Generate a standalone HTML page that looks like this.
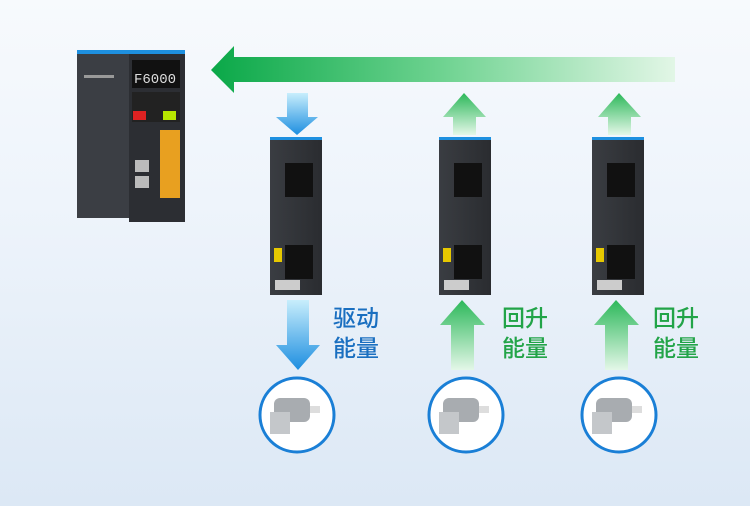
<!DOCTYPE html>
<html><head><meta charset="utf-8"><style>
body{margin:0;width:750px;height:506px;overflow:hidden;background:linear-gradient(#f7fafd 0%,#eef4fb 40%,#dce8f5 100%);font-family:"Liberation Sans","Noto Sans CJK SC",sans-serif}
.t{position:absolute;font-size:23px;line-height:30px;font-weight:500}
</style></head><body>
<svg width="750" height="506" style="position:absolute;left:0;top:0">
<defs>
<linearGradient id="gt" x1="0" x2="1"><stop offset="0" stop-color="#0aa848"/><stop offset="0.5" stop-color="#6fd391"/><stop offset="1" stop-color="#e2f6e6"/></linearGradient>
<linearGradient id="bd" x1="0" y1="0" x2="0" y2="1"><stop offset="0" stop-color="#c8eefc"/><stop offset="1" stop-color="#1d8ee0"/></linearGradient>
<linearGradient id="gu" x1="0" y1="0" x2="0" y2="1"><stop offset="0" stop-color="#2cb85a"/><stop offset="1" stop-color="#e4f7e8"/></linearGradient>
<linearGradient id="dev" x1="0" x2="1"><stop offset="0" stop-color="#3a3d42"/><stop offset="1" stop-color="#2a2c30"/></linearGradient>
</defs>
<polygon points="211,70 234,46 234,57 675,57 675,82 234,82 234,93" fill="url(#gt)"/>
<rect x="77" y="50" width="52" height="168" fill="#3b3e44"/>
<rect x="129" y="50" width="56" height="172" fill="#2c2e33"/>
<rect x="77" y="50" width="108" height="4" fill="#1e90e0"/>
<rect x="132" y="60" width="48" height="28" fill="#111"/>
<text x="134" y="83" font-size="14" fill="#ddd" font-family="Liberation Mono">F6000</text>
<rect x="132" y="92" width="48" height="30" fill="#222"/>
<rect x="133" y="111" width="13" height="9" fill="#d22"/>
<rect x="163" y="111" width="13" height="9" fill="#b6e600"/>
<rect x="160" y="130" width="20" height="68" fill="#e8a020"/>
<rect x="135" y="160" width="14" height="12" fill="#bbb"/><rect x="135" y="176" width="14" height="12" fill="#bbb"/>
<rect x="84" y="75" width="30" height="3" fill="#999"/>
<g id="m"><rect x="270" y="137" width="52" height="158" fill="url(#dev)"/><rect x="270" y="137" width="52" height="3" fill="#1e90e0"/>
<rect x="285" y="163" width="28" height="34" fill="#111"/><rect x="285" y="245" width="28" height="34" fill="#111"/>
<rect x="274" y="248" width="8" height="14" fill="#e6c800"/><rect x="275" y="280" width="25" height="10" fill="#ccc"/></g>
<use href="#m" x="169"/><use href="#m" x="322"/>
<polygon points="287,93 308,93 308,117 318,117 297,135 276,117 287,117" fill="url(#bd)"/>
<polygon points="464,93 486,117 476,117 476,135 453,135 453,117 443,117" fill="url(#gu)"/>
<polygon points="619,93 641,117 631,117 631,135 608,135 608,117 598,117" fill="url(#gu)"/>
<polygon points="287,300 309,300 309,345 320,345 298,370 276,345 287,345" fill="url(#bd)"/>
<polygon points="462,300 485,325 474,325 474,370 451,370 451,325 440,325" fill="url(#gu)"/>
<polygon points="616,300 639,325 628,325 628,370 605,370 605,325 594,325" fill="url(#gu)"/>
<g id="mo"><circle cx="297" cy="415" r="37" fill="#fff" stroke="#1a7fd6" stroke-width="3"/>
<rect x="274" y="398" width="36" height="24" rx="6" fill="#a8acb0"/><rect x="270" y="412" width="20" height="22" fill="#c4c7ca"/><rect x="310" y="406" width="10" height="7" fill="#ddd"/></g>
<use href="#mo" x="169"/><use href="#mo" x="322"/>
</svg>
<div class="t" style="left:333px;top:303px;color:#1a6fc0">驱动<br>能量</div>
<div class="t" style="left:502px;top:303px;color:#22a448">回升<br>能量</div>
<div class="t" style="left:653px;top:303px;color:#22a448">回升<br>能量</div>
</body></html>
